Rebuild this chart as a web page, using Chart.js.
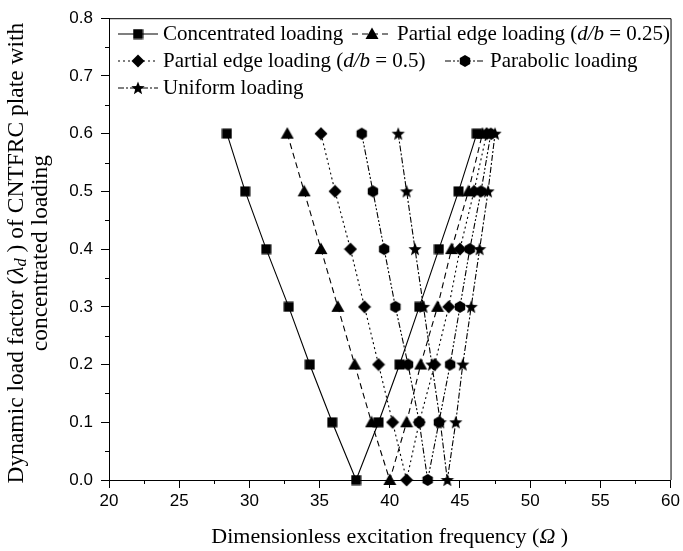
<!DOCTYPE html>
<html><head><meta charset="utf-8">
<script src="https://cdn.jsdelivr.net/npm/chart.js@4.4.1/dist/chart.umd.min.js"></script>
<style>html,body{margin:0;padding:0;background:#fff}#wrap{width:683px;height:551px;position:relative}</style>
</head><body><div id="wrap"><canvas id="c" width="683" height="551"></canvas></div>
<script>
// Dynamic load factor values (left branch 0.6 -> 0, right branch 0.1 -> 0.6)
const loadFactor   = [0.6, 0.5, 0.4, 0.3, 0.2, 0.1, 0.0, 0.1, 0.2, 0.3, 0.4, 0.5, 0.6];
const concentrated = [28.4, 29.7, 31.2, 32.8, 34.3, 35.9, 37.6, 39.2, 40.7, 42.1, 43.5, 44.9, 46.2];
const partial025   = [32.7, 33.9, 35.1, 36.3, 37.5, 38.7, 40.0, 41.2, 42.2, 43.4, 44.4, 45.6, 46.6];
const partial05    = [35.1, 36.1, 37.2, 38.2, 39.2, 40.2, 41.2, 42.1, 43.2, 44.2, 45.0, 46.0, 46.9];
const parabolic    = [38.0, 38.8, 39.6, 40.4, 41.3, 42.1, 42.7, 43.5, 44.3, 45.0, 45.7, 46.5, 47.2];
const uniform      = [40.6, 41.2, 41.8, 42.4, 43.0, 43.6, 44.1, 44.7, 45.2, 45.8, 46.4, 47.0, 47.5];
const xTicks = [20, 25, 30, 35, 40, 45, 50, 55, 60];
const yTicks = [0.0, 0.1, 0.2, 0.3, 0.4, 0.5, 0.6, 0.7, 0.8];

function mk(size, drawFn){
  const c=document.createElement('canvas'); c.width=c.height=size;
  const g=c.getContext('2d'); g.fillStyle='#000'; g.beginPath(); drawFn(g,size/2); g.closePath(); g.fill(); return c;
}
const mSquare = mk(11,(g,m)=>{g.rect(m-5,m-5,10,10);});
const mTri = mk(14,(g,m)=>{g.moveTo(m,m-6.5);g.lineTo(m+6.5,m+5);g.lineTo(m-6.5,m+5);});
const mDia = mk(14,(g,m)=>{g.moveTo(m,m-6.5);g.lineTo(m+6.5,m);g.lineTo(m,m+6.5);g.lineTo(m-6.5,m);});
const mHex = mk(14,(g,m)=>{for(let i=0;i<6;i++){const a=Math.PI/3*i+Math.PI/6;const px=m+6*Math.cos(a),py=m+6*Math.sin(a);i?g.lineTo(px,py):g.moveTo(px,py);}});
const mStar = mk(16,(g,m)=>{for(let i=0;i<10;i++){const r=i%2?3:7;const a=-Math.PI/2+i*Math.PI/5;const px=m+r*Math.cos(a),py=m+0.5+r*Math.sin(a);i?g.lineTo(px,py):g.moveTo(px,py);}});

const seriesDefs = [
  {vals:concentrated, marker:mSquare, dash:[]},
  {vals:partial025, marker:mTri, dash:[6,4]},
  {vals:partial05, marker:mDia, dash:[2,3]},
  {vals:parabolic, marker:mHex, dash:[6,2,2,2,2,2]},
  {vals:uniform, marker:mStar, dash:[6,2,2,2]}
];
const datasets = seriesDefs.map(s=>({
  data: s.vals.map((v,i)=>({x:v, y:loadFactor[i]})),
  showLine:true, borderColor:'#000', borderWidth:1.1, borderDash:s.dash,
  pointStyle:s.marker, pointRadius:6, backgroundColor:'#000', clip:false
}));

const SERIF='"Liberation Serif","Times New Roman",serif';
function richWidth(ctx, segs, size){
  let w=0; for(const s of segs){ctx.font=(s.i?'italic ':'')+(s.sub?size*0.7:size)+'px '+SERIF; w+=ctx.measureText(s.t).width;} return w;
}
function drawRich(ctx, segs, x, y, size, align){
  const w=richWidth(ctx,segs,size); let cx = align==='center'? x-w/2 : x;
  ctx.textBaseline='middle'; ctx.textAlign='left'; ctx.fillStyle='#000';
  for(const s of segs){ ctx.font=(s.i?'italic ':'')+(s.sub?size*0.7:size)+'px '+SERIF;
    ctx.fillText(s.t, cx, y+(s.sub?size*0.22:0)); cx+=ctx.measureText(s.t).width; }
}

const legendItems = [
  {ds:0, x:118, y:34, segs:[{t:'Concentrated loading'}]},
  {ds:1, x:352, y:34, segs:[{t:'Partial edge loading ('},{t:'d/b',i:1},{t:' = 0.25)'}]},
  {ds:2, x:118, y:61, segs:[{t:'Partial edge loading ('},{t:'d/b',i:1},{t:' = 0.5)'}]},
  {ds:3, x:445, y:61, segs:[{t:'Parabolic loading'}]},
  {ds:4, x:118, y:88, segs:[{t:'Uniform loading'}]}
];

const decor = {
  id:'decor',
  afterDraw(chart){
    const ctx=chart.ctx, a=chart.chartArea, xs=chart.scales.x, ys=chart.scales.y;
    ctx.save();
    ctx.strokeStyle='#000'; ctx.lineWidth=1;
    ctx.beginPath(); ctx.moveTo(a.left, a.top+0.5); ctx.lineTo(a.right+0.5, a.top+0.5); ctx.lineTo(a.right+0.5, a.bottom); ctx.stroke();
    ctx.beginPath();
    for(let v=22.5; v<60; v+=5){const px=Math.round(xs.getPixelForValue(v))+0.5; ctx.moveTo(px,a.bottom); ctx.lineTo(px,a.bottom+4);}
    for(let v=0.05; v<0.8; v+=0.1){const py=Math.round(ys.getPixelForValue(v))+0.5; ctx.moveTo(a.left,py); ctx.lineTo(a.left-4,py);}
    ctx.stroke();
    for(const it of legendItems){
      const ds=chart.data.datasets[it.ds];
      ctx.setLineDash(ds.borderDash); ctx.lineWidth=1.1;
      ctx.beginPath(); ctx.moveTo(it.x, it.y); ctx.lineTo(it.x+40, it.y); ctx.stroke();
      ctx.setLineDash([]);
      const m=ds.pointStyle; ctx.drawImage(m, it.x+20-m.width/2, it.y-m.height/2);
      drawRich(ctx, it.segs, it.x+45, it.y, 21, 'left');
    }
    drawRich(ctx, [{t:'Dimensionless excitation frequency ('},{t:'Ω',i:1},{t:' )'}], (a.left+a.right)/2, 537, 22, 'center');
    ctx.translate(17, (a.top+a.bottom)/2 + 4); ctx.rotate(-Math.PI/2);
    drawRich(ctx, [{t:'Dynamic load factor ('},{t:'λ',i:1},{t:'d',i:1,sub:1},{t:' ) of CNTFRC plate with'}], 0, 0, 23.5, 'center');
    drawRich(ctx, [{t:'concentrated loading'}], 0, 24, 23.5, 'center');
    ctx.restore();
  }
};

new Chart(document.getElementById('c'), {
  type:'scatter',
  data:{datasets},
  options:{
    responsive:false, animation:false,
    layout:{padding:{left:0,right:10,top:14,bottom:0}},
    plugins:{legend:{display:false}, tooltip:{enabled:false}},
    scales:{
      x:{type:'linear', min:20, max:60,
        afterBuildTicks(s){ s.ticks = xTicks.map(v=>({value:v})); },
        ticks:{font:{family:'"Liberation Sans",Arial,sans-serif', size:17}, color:'#000', padding:3, maxRotation:0, autoSkip:false},
        grid:{drawOnChartArea:false, tickLength:8, color:'#000', tickColor:'#000'},
        border:{color:'#000', width:1},
        afterFit(s){ s.height=71; }},
      y:{type:'linear', min:0, max:0.8,
        afterBuildTicks(s){ s.ticks = yTicks.map(v=>({value:v})); },
        ticks:{font:{family:'"Liberation Sans",Arial,sans-serif', size:17}, color:'#000', padding:8, autoSkip:false, callback:v=>Number(v).toFixed(1)},
        grid:{drawOnChartArea:false, tickLength:8, color:'#000', tickColor:'#000'},
        border:{color:'#000', width:1},
        afterFit(s){ s.width=109; }}
    }
  },
  plugins:[decor]
});
</script></body></html>
